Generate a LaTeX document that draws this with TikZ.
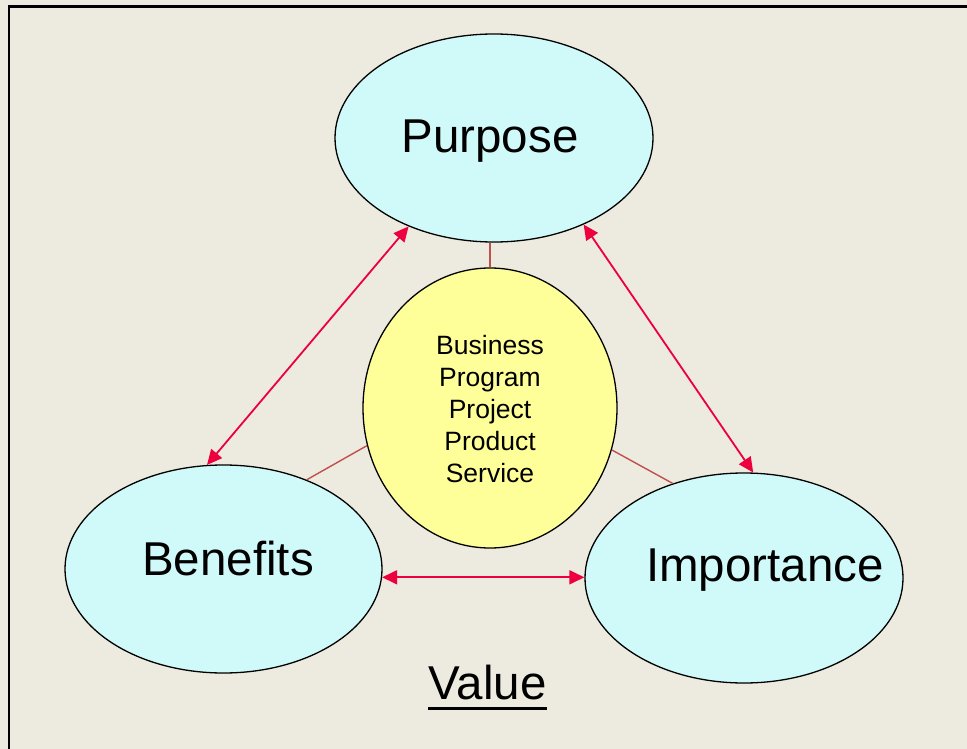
\documentclass[tikz,border=0pt]{standalone}
\usepackage{fontspec}
\setmainfont{Liberation Sans}
\usetikzlibrary{shapes.geometric,arrows.meta}
\definecolor{bg}{RGB}{237,234,224}
\definecolor{cyanfill}{RGB}{208,250,250}
\definecolor{yelfill}{RGB}{255,255,153}
\definecolor{arrred}{RGB}{236,0,62}
\definecolor{linkbrown}{RGB}{192,80,77}
\begin{document}
\begin{tikzpicture}[x=1pt,y=-1pt,
  bubble/.style={ellipse,draw=black,line width=1.3pt,fill=cyanfill,inner sep=0pt,minimum width=318pt,minimum height=208pt},
  core/.style={ellipse,draw=black,line width=1.3pt,fill=yelfill,inner sep=0pt,minimum width=254pt,minimum height=280pt},
  big/.style={font=\fontsize{47.5}{54}\selectfont,anchor=base,inner sep=0pt},
  small/.style={font=\fontsize{26.5}{32}\selectfont,align=center,inner sep=0pt},
  arr/.style={arrred,line width=1.8pt,{Triangle[length=15pt,width=14pt]}-{Triangle[length=15pt,width=14pt]}},
  link/.style={linkbrown,line width=1.4pt}]
\fill[bg] (0,0) rectangle (967,749);
\useasboundingbox (0,0) rectangle (967,749);
\draw[line width=2.5pt] (9,749) -- (9,6.5) -- (967,6.5);
% ellipses
\node[bubble] (pur) at (494,138) {};
\node[bubble,minimum width=317pt] (ben) at (223.5,569) {};
\node[bubble,minimum height=210pt] (imp) at (744,578) {};
\node[core] (yel) at (490,408) {};
% links to the core
\draw[link] (pur.south -| yel.north) -- (yel.north);
\draw[link] (ben.47) -- (yel.197);
\draw[link] (imp.127) -- (yel.341);
% arrows
\draw[arr] (pur.226) -- (ben.99);
\draw[arr] (pur.316) -- (imp.85);
\draw[arr] (ben.357) -- (ben.357 -| imp.west);
% texts
\node[big] (tpur) at (490,153) {Purpose};
\node[big] (tben) at (228,575) {Benefits};
\node[big] (timp) at (765,581) {Importance};
\node[big] (tval) at (487.5,699) {Value};
\draw[line width=3pt] ([yshift=-9pt]tval.base west) -- ([yshift=-9pt]tval.base east);
\node[small] (tcore) at (490,409) {Business\\Program\\Project\\Product\\Service};
\end{tikzpicture}
\end{document}
